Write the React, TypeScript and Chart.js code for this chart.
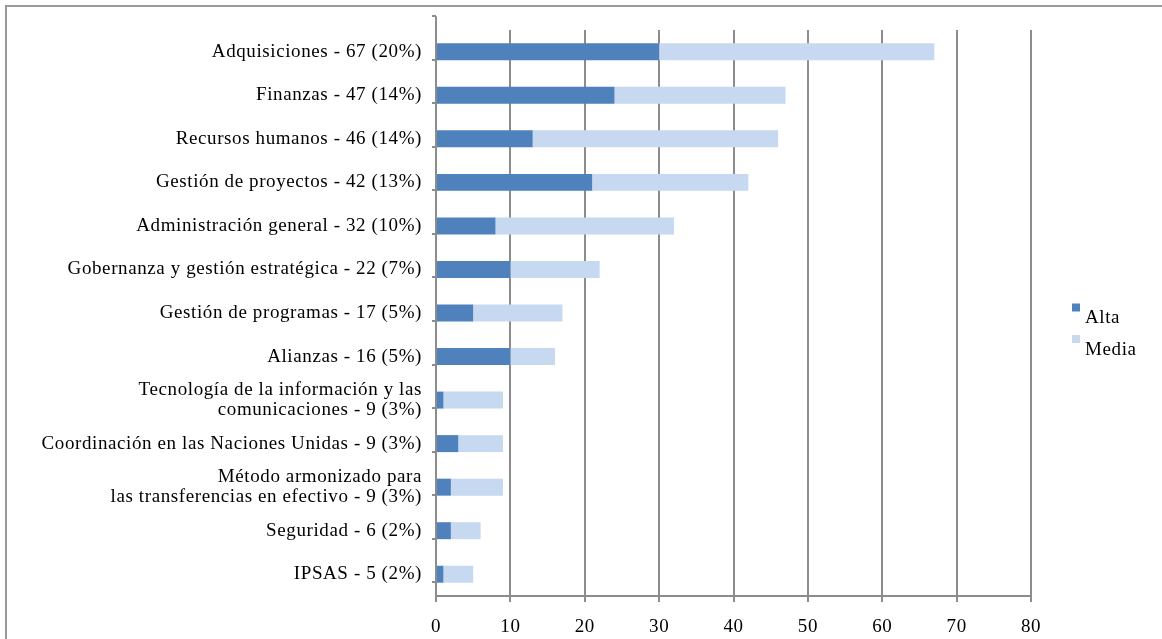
import React, { useEffect, useRef } from 'react';
import { Chart, registerables } from 'chart.js';

Chart.register(...registerables);

const categoryLabels: (string | string[])[] = [
  'Adquisiciones - 67 (20%)',
  'Finanzas - 47 (14%)',
  'Recursos humanos - 46 (14%)',
  'Gestión de proyectos - 42 (13%)',
  'Administración general - 32 (10%)',
  'Gobernanza y gestión estratégica - 22 (7%)',
  'Gestión de programas - 17 (5%)',
  'Alianzas - 16 (5%)',
  ['Tecnología de la información y las', 'comunicaciones - 9 (3%)'],
  'Coordinación en las Naciones Unidas - 9 (3%)',
  ['Método armonizado para', 'las transferencias en efectivo - 9 (3%)'],
  'Seguridad - 6 (2%)',
  'IPSAS - 5 (2%)',
];

const seriesNames = ['Alta', 'Media'];
const altaValues = [30, 24, 13, 21, 8, 10, 5, 10, 1, 3, 2, 2, 1];
const mediaValues = [37, 23, 33, 21, 24, 12, 12, 6, 8, 6, 7, 4, 4];
const seriesColors = ['#4F81BD', '#C6D9F1'];

const xMin = 0;
const xMax = 80;
const xStep = 10;

const FONT_FAMILY = "'Liberation Serif', 'Times New Roman', serif";
const FONT_SIZE = 19;
const LETTER_SPACING = '0.6px';
const GRID = '#8c8c8c';

// Text spacing like the reference rendering
const textSpacing = {
  id: 'textSpacing',
  beforeDraw(chart: any) {
    (chart.ctx as any).letterSpacing = LETTER_SPACING;
  },
  afterDraw(chart: any) {
    (chart.ctx as any).letterSpacing = '0px';
  },
};

// Category axis line and tick marks, shifted up as in the reference
const shiftedAxis = {
  id: 'shiftedAxis',
  afterDatasetsDraw(chart: any) {
    const { ctx, chartArea } = chart;
    const yScale = chart.scales.y;
    const n = chart.data.labels.length;
    const band = (chartArea.bottom - chartArea.top) / n;
    const shift = band * 0.316;
    const x = chartArea.left;
    ctx.save();
    ctx.strokeStyle = GRID;
    ctx.lineWidth = 2;
    ctx.beginPath();
    ctx.moveTo(x, chartArea.top - shift);
    ctx.lineTo(x, yScale.bottom + 1);
    for (let k = 0; k <= n; k++) {
      const y = Math.round(yScale.getPixelForValue(k) - band / 2 - shift);
      ctx.moveTo(x - 4, y);
      ctx.lineTo(x, y);
    }
    ctx.stroke();
    ctx.restore();
  },
};

const sideLegend = {
  id: 'sideLegend',
  afterDraw(chart: any) {
    const { ctx, chartArea } = chart;
    const x = chartArea.right + 41;
    const midY = (chartArea.top + chartArea.bottom) / 2;
    ctx.save();
    (ctx as any).letterSpacing = LETTER_SPACING;
    ctx.font = `${FONT_SIZE}px ${FONT_FAMILY}`;
    ctx.textBaseline = 'middle';
    ctx.textAlign = 'left';
    chart.data.datasets.forEach((ds: any, i: number) => {
      const top = midY - 9.5 + i * 31.5;
      ctx.fillStyle = ds.backgroundColor;
      ctx.fillRect(x, top, 8, 8);
      ctx.fillStyle = '#000';
      ctx.fillText(ds.label, x + 13, top + 15);
    });
    ctx.restore();
  },
};

export default function App() {
  const canvasRef = useRef<HTMLCanvasElement | null>(null);

  useEffect(() => {
    if (!canvasRef.current) return;
    const chart = new Chart(canvasRef.current, {
      type: 'bar',
      data: {
        labels: categoryLabels,
        datasets: [
          {
            label: seriesNames[0],
            data: altaValues,
            backgroundColor: seriesColors[0],
            borderWidth: 0,
            barPercentage: 0.39,
            categoryPercentage: 1,
          },
          {
            label: seriesNames[1],
            data: mediaValues,
            backgroundColor: seriesColors[1],
            borderWidth: 0,
            barPercentage: 0.39,
            categoryPercentage: 1,
          },
        ],
      },
      options: {
        indexAxis: 'y',
        responsive: false,
        animation: false,
        devicePixelRatio: 1,
        layout: { padding: { top: 30, right: 131, bottom: 0, left: 0 } },
        plugins: {
          legend: { display: false },
          tooltip: { enabled: false },
        },
        scales: {
          x: {
            stacked: true,
            min: xMin,
            max: xMax,
            ticks: {
              stepSize: xStep,
              color: '#000',
              font: { family: FONT_FAMILY, size: FONT_SIZE },
              padding: 14,
            },
            grid: {
              color: GRID,
              lineWidth: 2,
              drawTicks: true,
              tickLength: 6,
              tickColor: GRID,
            },
            border: { display: true, color: GRID, width: 2 },
            afterFit(scale: any) {
              scale.height = 43;
            },
          },
          y: {
            stacked: true,
            ticks: {
              color: '#000',
              font: { family: FONT_FAMILY, size: FONT_SIZE, lineHeight: 1.03 },
              padding: 14,
              autoSkip: false,
            },
            grid: {
              display: true,
              drawOnChartArea: false,
              drawTicks: false,
              tickLength: 5,
              color: 'rgba(0,0,0,0)',
              offset: true,
            },
            border: { display: false },
            afterFit(scale: any) {
              scale.width = 436;
            },
          },
        },
      },
      plugins: [textSpacing, shiftedAxis, sideLegend],
    });
    return () => chart.destroy();
  }, []);

  return (
    <div
      style={{
        position: 'fixed',
        left: 0,
        top: 0,
        width: 1162,
        height: 639,
        overflow: 'hidden',
        background: '#fff',
      }}
    >
      <div
        style={{
          position: 'absolute',
          left: 5,
          top: 5,
          width: 1300,
          height: 800,
          border: '2px solid #999',
          boxSizing: 'border-box',
        }}
      />
      <canvas
        ref={canvasRef}
        width={1162}
        height={639}
        style={{ position: 'absolute', left: 0, top: 0, width: 1162, height: 639 }}
      />
    </div>
  );
}
